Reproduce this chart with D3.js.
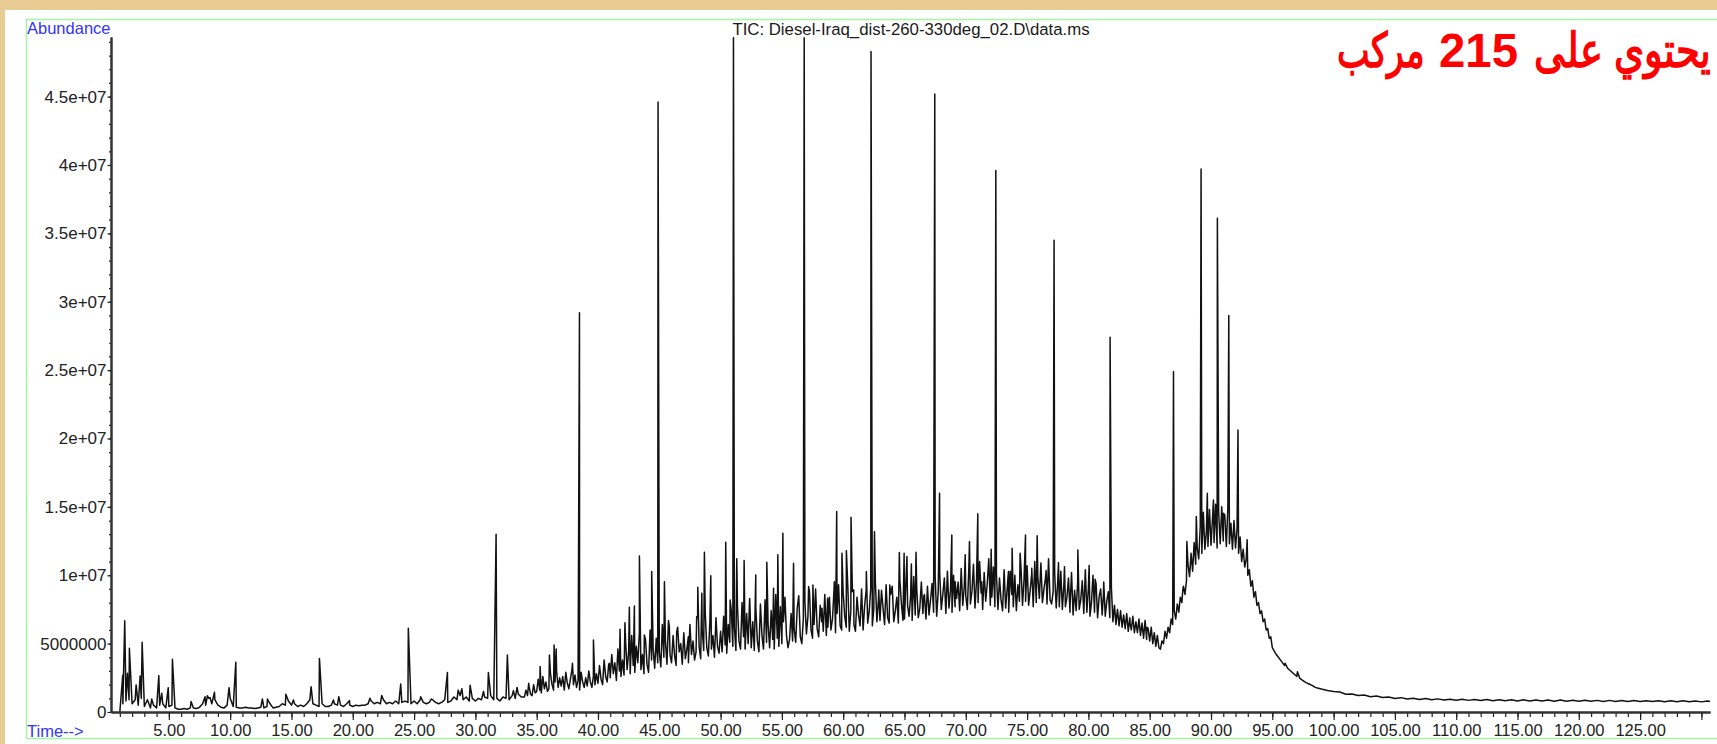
<!DOCTYPE html>
<html>
<head>
<meta charset="utf-8">
<script src="https://cdn.jsdelivr.net/npm/d3@7"></script>
<style>
  html, body { margin: 0; padding: 0; background: #e7cc93; }
  svg { display: block; }
  text { font-family: "Liberation Sans", Arial, sans-serif; }
</style>
</head>
<body>
<svg id="chart" width="1717" height="744"></svg>
<script>
// abundance is kept in millions, time in minutes
const yTickValues = [0, 5, 10, 15, 20, 25, 30, 35, 40, 45];
const yTickLabels = ["0", "5000000", "1e+07", "1.5e+07", "2e+07", "2.5e+07", "3e+07", "3.5e+07", "4e+07", "4.5e+07"];
const xTickValues = [5, 10, 15, 20, 25, 30, 35, 40, 45, 50, 55, 60, 65, 70, 75, 80, 85, 90, 95, 100, 105, 110, 115, 120, 125, 130];
const xTickLabels = ["5.00", "10.00", "15.00", "20.00", "25.00", "30.00", "35.00", "40.00", "45.00", "50.00", "55.00", "60.00", "65.00",
  "70.00", "75.00", "80.00", "85.00", "90.00", "95.00", "100.00", "105.00", "110.00", "115.00", "120.00", "125.00", ""];

// signal between the peaks, 1.00 - 33.75 min, every 0.25 min
const earlyStart = 1.0, earlyStep = 0.25;
const earlyValues = [
  0.0, 0.6, 0.8, 0.9,   0.6, 0.9, 0.5, 1.0,   0.4, 0.9, 0.3, 0.5,   0.3, 0.5, 0.6, 0.3,   // 1-4
  0.4, 0.5, 0.3, 0.2,   0.2, 0.25, 0.2, 0.3,  0.3, 0.25, 0.35, 0.6, 0.5, 1.0, 0.6, 0.9,   // 5-8
  0.5, 0.35, 0.3, 0.5,  1.0, 0.4, 0.35, 0.3,  0.3, 0.35, 0.3, 0.3,  0.25, 0.3, 0.35, 0.3, // 9-12
  0.4, 0.6, 0.3, 0.35,  0.4, 0.6, 0.5, 0.8,   0.5, 0.6, 0.4, 0.5,   0.4, 0.6, 0.9, 0.6,   // 13-16
  0.5, 0.4, 0.6, 0.4,   0.4, 0.5, 0.6, 0.5,   0.5, 0.4, 0.6, 0.5,   0.4, 0.5, 0.45, 0.5,  // 17-20
  0.5, 0.6, 0.8, 0.6,   0.7, 0.6, 0.9, 0.6,   0.7, 0.6, 0.8, 0.6,   0.7, 0.8, 0.7, 0.6,   // 21-24
  0.8, 0.6, 0.9, 0.7,   0.6, 0.7, 0.9, 0.7,   0.6, 0.7, 0.9, 0.7,   0.8, 1.1, 0.9, 1.2,   // 25-28
  0.9, 1.1, 0.8, 1.0,   0.8, 1.0, 0.9, 1.1,   1.0, 1.2, 0.9, 1.0,   0.8, 1.1, 1.0, 0.9,   // 29-32
  1.2, 1.0, 1.3, 1.1                                                                      // 33
];

// dense grass of unresolved compounds, 34.000 - 94.875 min, every 0.125 min
const denseStart = 34.0, denseStep = 0.125;
const denseValues = [
  1.1, 1.6, 1.2, 1.9, 1.3, 1.2, 2.0, 1.4,     // 34
  1.5, 2.4, 1.6, 1.4, 2.6, 1.7, 2.2, 1.5,     // 35
  1.7, 2.8, 2.0, 1.6, 2.2, 3.0, 1.8, 2.5,     // 36
  1.9, 2.6, 1.6, 2.9, 2.1, 1.7, 2.4, 3.1,     // 37
  2.0, 2.7, 1.8, 2.3, 1.6, 2.9, 2.2, 1.8,     // 38
  2.5, 1.9, 3.0, 2.2, 1.8, 2.6, 2.0, 2.8,     // 39
  2.1, 3.4, 2.4, 2.0, 3.8, 2.6, 2.2, 3.5,     // 40
  2.5, 4.2, 2.8, 3.6, 2.3, 4.6, 3.0, 2.6,     // 41
  3.8, 2.7, 5.2, 3.1, 4.4, 2.8, 5.6, 3.4,     // 42
  2.9, 4.8, 3.6, 5.8, 3.1, 4.2, 2.8, 5.3,     // 43
  3.5, 2.9, 6.0, 3.8, 4.6, 3.2, 5.4, 3.6,     // 44
  4.4, 3.3, 6.4, 4.0, 5.2, 3.5, 6.7, 4.2,     // 45
  3.6, 5.6, 4.1, 3.4, 6.2, 4.4, 5.0, 3.5,     // 46
  5.8, 3.9, 4.6, 3.6, 6.4, 4.2, 5.2, 3.8,     // 47
  4.4, 6.9, 4.8, 3.9, 6.0, 4.5, 7.2, 4.7,     // 48
  4.1, 6.5, 4.6, 5.6, 4.0, 6.9, 4.8, 4.3,     // 49
  5.9, 4.4, 7.0, 4.9, 4.3, 6.4, 5.1, 7.4,     // 50
  4.8, 6.2, 4.5, 7.8, 5.2, 4.6, 8.0, 5.5,     // 51
  4.6, 7.2, 5.0, 8.3, 4.7, 6.6, 4.5, 7.6,     // 52
  5.2, 4.4, 7.9, 5.6, 4.6, 8.2, 5.1, 6.4,     // 53
  4.7, 7.4, 5.3, 4.6, 8.6, 5.4, 4.8, 7.7,     // 54
  5.0, 6.6, 8.4, 5.6, 4.7, 5.3, 7.2, 5.2,     // 55
  6.1, 5.1, 7.6, 8.5, 5.5, 5.0, 6.8, 8.1,     // 56
  5.7, 7.0, 8.8, 6.0, 5.4, 6.4, 9.0, 6.1,     // 57
  5.5, 7.8, 6.6, 5.9, 8.6, 5.6, 6.2, 8.4,     // 58
  6.0, 6.8, 8.9, 5.8, 7.2, 9.3, 6.3, 6.0,     // 59
  8.7, 7.0, 6.2, 9.2, 5.9, 7.4, 8.8, 6.4,     // 60
  5.9, 8.4, 7.1, 6.3, 9.0, 6.0, 7.8, 8.9,     // 61
  6.5, 7.4, 9.1, 6.3, 7.6, 9.5, 6.6, 8.2,     // 62
  6.7, 8.9, 7.6, 6.4, 9.3, 6.9, 6.5, 8.6,     // 63
  9.2, 6.6, 7.4, 8.4, 6.5, 9.6, 7.9, 6.7,     // 64
  6.8, 9.7, 7.8, 7.0, 8.5, 6.7, 9.9, 7.1,     // 65
  9.0, 6.9, 7.6, 9.5, 7.2, 8.6, 6.8, 9.2,     // 66
  7.1, 8.2, 9.4, 7.3, 9.9, 7.0, 8.8, 10.1,    // 67
  7.5, 8.6, 9.8, 7.2, 10.3, 7.6, 8.9, 7.3,    // 68
  10.0, 7.7, 8.3, 9.5, 7.4, 10.5, 7.8, 9.2,   // 69
  8.5, 7.5, 10.6, 7.9, 8.8, 10.8, 7.6, 9.6,   // 70
  8.0, 11.0, 8.7, 7.5, 10.2, 8.1, 9.4, 11.2,  // 71
  7.8, 8.4, 10.6, 7.7, 10.0, 7.5, 9.8, 8.2,   // 72
  7.4, 10.4, 7.6, 9.0, 7.3, 10.3, 8.6, 7.7,   // 73
  10.0, 7.4, 9.3, 8.1, 10.6, 7.8, 9.7, 8.1,   // 74
  10.7, 7.8, 8.9, 10.1, 7.7, 11.0, 8.0, 9.9,  // 75
  8.3, 10.9, 8.0, 9.0, 9.8, 7.9, 11.2, 8.2,   // 76
  7.9, 8.8, 10.1, 7.6, 9.6, 7.7, 10.3, 7.5,   // 77
  9.3, 7.7, 8.4, 9.8, 7.3, 10.2, 7.1, 8.9,    // 78
  7.4, 9.5, 7.5, 8.2, 9.6, 7.2, 10.4, 7.3,    // 79
  9.1, 7.0, 8.0, 10.0, 7.3, 9.4, 6.9, 8.4,    // 80
  9.0, 7.1, 9.5, 7.0, 8.1, 8.8, 6.9, 9.1,     // 81
  6.6, 7.8, 6.4, 7.5, 6.3, 7.4, 6.2, 7.1,     // 82
  6.1, 7.2, 5.9, 6.9, 6.0, 7.0, 5.8, 6.6,     // 83
  5.8, 6.8, 5.6, 6.5, 5.4, 6.7, 5.3, 6.1,     // 84
  5.2, 6.2, 5.0, 5.8, 4.8, 5.6, 4.7, 4.6,     // 85
  5.2, 5.0, 5.9, 5.4, 6.2, 5.8, 6.8, 6.4,     // 86
  7.4, 6.8, 7.9, 7.3, 8.4, 8.0, 9.2, 8.6,     // 87
  9.6, 10.8, 9.9, 11.6, 10.3, 12.4, 10.8, 12.0,   // 88
  11.2, 13.6, 11.6, 14.6, 11.9, 13.2, 12.1, 14.8, // 89
  12.2, 14.2, 12.4, 15.2, 12.0, 14.6, 12.3, 15.0, // 90
  12.5, 14.4, 12.1, 14.9, 12.3, 13.8, 11.9, 14.0, // 91
  12.0, 13.4, 11.6, 12.8, 11.0, 11.9, 10.6, 11.2, // 92
  10.0, 10.4, 9.2, 9.6, 8.4, 8.8, 7.8, 8.0,       // 93
  7.2, 7.4, 6.6, 6.8, 6.0, 6.1, 5.4, 5.5          // 94
];

// tail of the hump, 95.00 - 100.00 min, every 0.25 min
const lateStart = 95.0, lateStep = 0.25;
const lateValues = [4.7, 4.3, 4.0, 3.7, 3.4, 3.2, 3.0, 2.8, 2.6, 2.45, 2.3, 2.15, 2.05, 1.95, 1.8, 1.74, 1.68, 1.63, 1.58, 1.54, 1.5];

// column bleed after 100 min (slightly noisy)
const tailTimes = [100.5, 101, 101.5, 102, 102.5, 103, 103.5, 104, 104.5, 105, 105.5, 106, 106.5, 107, 107.5, 108, 108.5,
  109, 109.5, 110, 110.5, 111, 111.5, 112, 112.5, 113, 113.5, 114, 114.5, 115, 115.5, 116, 116.5, 117, 117.5, 118, 118.5,
  119, 119.5, 120, 120.5, 121, 121.5, 122, 122.5, 123, 123.5, 124, 124.5, 125, 125.5, 126, 126.5, 127, 127.5, 128, 128.5,
  129, 129.5, 130, 130.5, 130.7];
const tailValues = [1.46, 1.30, 1.32, 1.20, 1.24, 1.12, 1.17, 1.06, 1.10, 0.99, 1.05, 0.95, 1.01, 0.92, 0.98, 0.89, 0.96,
  0.87, 0.94, 0.86, 0.93, 0.85, 0.92, 0.84, 0.91, 0.83, 0.90, 0.82, 0.89, 0.81, 0.89, 0.81, 0.88, 0.80, 0.87, 0.79, 0.87,
  0.79, 0.86, 0.78, 0.86, 0.78, 0.85, 0.77, 0.85, 0.77, 0.84, 0.77, 0.84, 0.76, 0.83, 0.76, 0.83, 0.75, 0.82, 0.75, 0.82,
  0.75, 0.81, 0.74, 0.81, 0.77];

// peak apexes
const peakTimes = [1.24, 1.40, 1.62, 1.78, 2.33, 2.66, 2.82, 3.6, 4.18, 4.42, 4.95, 5.29, 6.81, 7.95, 8.15, 8.36, 8.72,
  9.91, 10.46, 12.63, 13.04, 14.54, 15.16, 16.6, 17.28, 18.42, 18.86, 19.73, 21.4, 22.36, 23.91, 24.53, 25.54, 26.4,
  27.72, 28.6, 28.9, 29.57, 30.66, 31.06, 31.69, 32.61, 33.1, 33.4, 34.35,
  35.28, 36.04, 36.42, 36.59, 37.92, 38.49, 39.63, 40.93, 41.8, 42.2, 42.56, 42.97, 43.38, 43.78, 44.38, 44.9,
  45.42, 45.82, 46.42, 47.37, 48.05, 48.14, 48.47, 48.68, 49.2, 50.42, 50.78, 51.05, 51.32, 51.92, 52.36, 52.87,
  53.77, 54.32, 54.67, 55.08, 55.95, 56.82, 57.18, 57.53, 58.27, 58.73, 59.28, 59.47, 59.9, 60.26, 60.64, 60.86,
  61.89, 62.27, 62.55, 62.9, 63.8, 64.58, 64.97, 65.2, 65.56, 65.94, 66.57, 67.38, 67.47, 67.86,
  68.86, 69.13, 69.95, 70.3, 70.98, 71.3, 72.07, 72.45, 73.48, 73.78, 74.43, 74.87, 75.38, 75.82, 76.55,
  77.2, 77.56, 78.05, 78.51, 79.14, 80.06, 80.55, 81.23, 81.77, 82.32, 83.4, 84.78,
  86.94, 87.7, 88.03, 88.8, 89.19, 89.7, 90.2, 90.52, 91.02, 91.45, 92.2, 92.95, 94.82, 96.05, 97.05];
const peakHeights = [2.7, 6.68, 2.83, 4.66, 1.98, 2.64, 5.1, 0.95, 2.66, 1.37, 1.78, 3.85, 0.76, 1.12, 1.19, 1.05, 1.44,
  1.78, 3.63, 0.95, 0.95, 1.3, 0.88, 1.85, 3.92, 0.88, 1.12, 0.83, 1.0, 1.2, 2.05, 6.12, 1.12, 0.95,
  2.88, 1.6, 1.7, 1.95, 1.5, 2.88, 13.0, 4.17, 1.56, 1.8, 2.1,
  3.32, 4.17, 4.9, 4.6, 3.56, 29.2, 5.27, 3.56, 6.05, 6.53, 7.66, 7.75, 11.4, 5.63, 10.27, 44.6,
  9.53, 6.24, 5.88, 5.5, 6.97, 9.12, 8.68, 11.68, 9.97, 12.42, 8.19, 49.3, 11.2, 11.07, 8.07, 10.02,
  10.95, 9.05, 11.5, 13.07, 10.88, 49.3, 9.17, 9.29, 7.58, 8.32, 9.53, 14.66, 11.61, 11.8, 14.24, 8.93,
  10.27, 48.3, 13.19, 8.93, 9.29, 11.66, 11.61, 11.37, 10.83, 11.68, 8.43, 9.9, 45.2, 16.0,
  12.95, 9.53, 11.49, 12.46, 14.49, 9.53, 11.9, 39.6, 10.27, 11.97, 11.61, 12.95, 10.51, 12.88, 10.34,
  34.5, 10.93, 10.63, 7.95, 11.85, 10.71, 9.7, 8.68, 27.4, 7.1, 6.5, 6.2,
  24.9, 8.93, 12.46, 14.29, 39.7, 16.0, 15.51, 36.1, 14.54, 29.0, 20.63, 12.6, 5.39, 3.56, 2.95];

const titleText = "TIC: Diesel-Iraq_dist-260-330deg_02.D\\data.ms";
// red note, split into its three words as they sit from right to left
const noteWords = ["يحتوي على", "215", "مركب"];

const width = 1717;
const height = 744;

const svg = d3.select("#chart");

const x = d3.scaleLinear().domain([0.28, 130.7]).range([111, 1710]);
const y = d3.scaleLinear().domain([0, 49.36]).range([712, 37]);

// paper + frame
svg.append("rect").attr("x", 5).attr("y", 10).attr("width", width - 5).attr("height", height - 10).attr("fill", "#ffffff");
svg.append("rect").attr("x", 26.5).attr("y", 19.5).attr("width", width).attr("height", 719)
  .attr("fill", "none").attr("stroke", "#a4f5a4").attr("stroke-width", 1.5);

// build the trace
const sampled = (start, step, values) => values.map((v, i) => [start + i * step, v]);
const trace = [
  ...sampled(earlyStart, earlyStep, earlyValues),
  ...sampled(denseStart, denseStep, denseValues),
  ...sampled(lateStart, lateStep, lateValues),
  ...peakTimes.map((t, i) => [t, peakHeights[i]]),
  ...tailTimes.map((t, i) => [t, tailValues[i]])
].sort((a, b) => a[0] - b[0]);

const line = d3.line().x(d => x(d[0])).y(d => y(d[1]));

svg.append("path")
  .datum(trace)
  .attr("d", line)
  .attr("fill", "none")
  .attr("stroke", "#111")
  .attr("stroke-width", 1.5)
  .attr("stroke-linejoin", "round");

// y axis: minor then major ticks
const yMinor = svg.append("g").attr("transform", `translate(${x.range()[0]},0)`)
  .call(d3.axisLeft(y).tickValues(d3.range(0, 50, 1)).tickSize(2).tickSizeOuter(0).tickFormat(""));
const yMajor = svg.append("g").attr("transform", `translate(${x.range()[0]},0)`)
  .call(d3.axisLeft(y).tickValues(yTickValues).tickSize(3.5).tickSizeOuter(0).tickPadding(1)
    .tickFormat((d, i) => yTickLabels[i]));

// x axis
const xMinor = svg.append("g").attr("transform", `translate(0,${y.range()[0]})`)
  .call(d3.axisBottom(x).tickValues(d3.range(1, 131, 1)).tickSize(5).tickSizeOuter(0).tickFormat(""));
const xMajor = svg.append("g").attr("transform", `translate(0,${y.range()[0]})`)
  .call(d3.axisBottom(x).tickValues(xTickValues).tickSize(8).tickSizeOuter(0).tickPadding(4.5)
    .tickFormat((d, i) => xTickLabels[i]));

[yMinor, yMajor, xMinor, xMajor].forEach(g => {
  g.selectAll(".domain").attr("stroke", "#333").attr("stroke-width", 2);
  g.selectAll(".tick line").attr("stroke", "#222").attr("stroke-width", 1.2);
  g.selectAll("text").attr("fill", "#222").style("font-family", '"Liberation Sans", Arial, sans-serif');
});
yMajor.selectAll("text").style("font-size", "17px");
xMajor.selectAll("text").style("font-size", "16.5px");

// labels
svg.append("text").attr("x", 27).attr("y", 33.5).attr("fill", "#3434ff").style("font-size", "16.5px").text("Abundance");
svg.append("text").attr("x", 27).attr("y", 736.5).attr("fill", "#3434ff").style("font-size", "16.5px").text("Time-->");
svg.append("text").attr("x", 911).attr("y", 35).attr("text-anchor", "middle").attr("fill", "#1a1a1a")
  .style("font-family", '"Liberation Sans", Arial, sans-serif')
  .style("font-size", "16.8px").text(titleText);

// note: [right edge, width] of each word, squeezed to the reference widths
const noteSlots = [[1710, 176], [1518, 79], [1425, 88]];
const note = svg.append("g").attr("fill", "#ff0000")
  .style("font-family", '"Liberation Sans", "DejaVu Sans", sans-serif')
  .style("font-size", "48px").style("font-weight", "bold");
note.selectAll("text").data(noteWords).join("text")
  .text(d => d)
  .each(function (d, i) {
    const natural = this.getComputedTextLength();
    const [right, w] = noteSlots[i];
    d3.select(this).attr("transform", `translate(${right - w},67) scale(${w / natural},1)`);
  });
</script>
</body>
</html>
